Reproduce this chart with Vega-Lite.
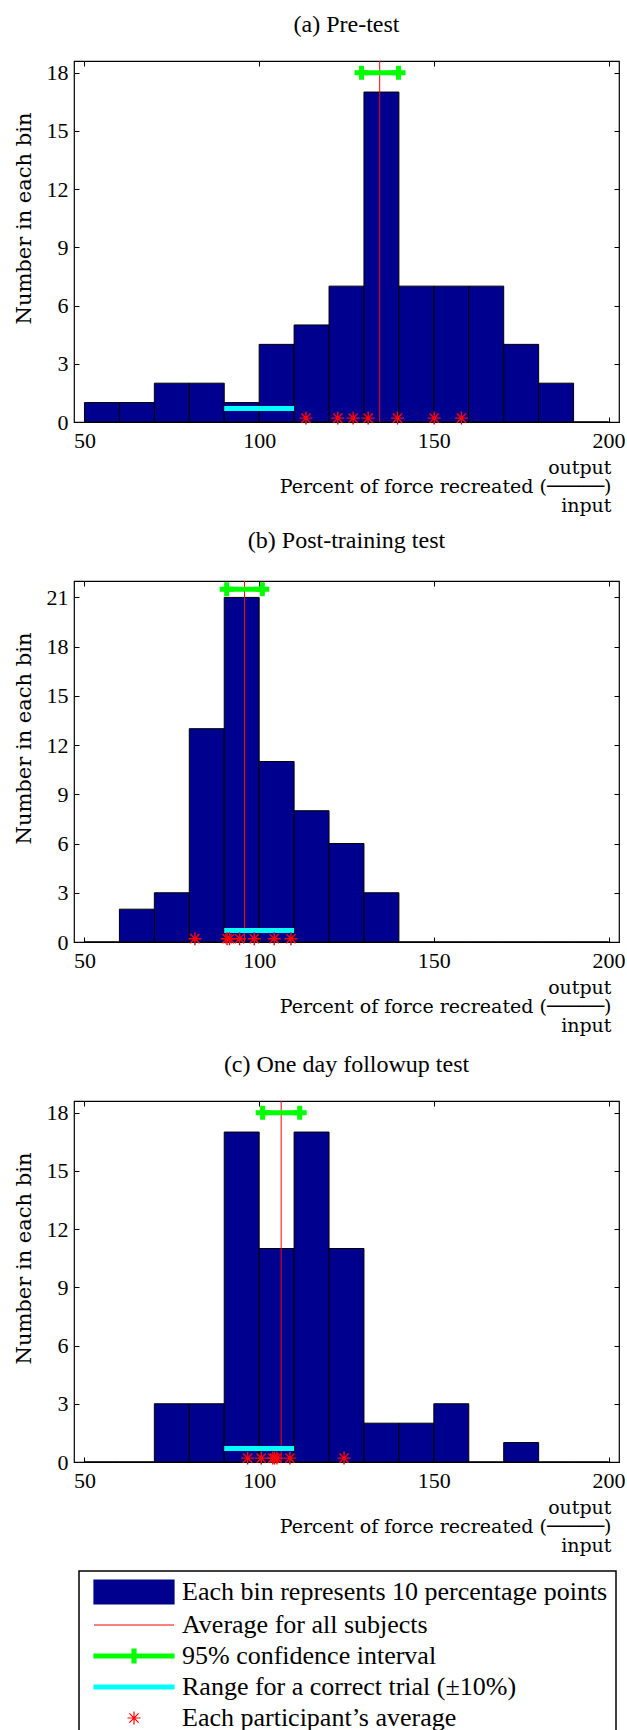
{
  "$schema": "https://vega.github.io/schema/vega-lite/v6.json",
  "padding": {"top": 12, "left": 12, "right": 0, "bottom": 0},
  "autosize": {"type": "pad"},
  "background": "white",
  "config": {
    "view": {"stroke": "black", "strokeWidth": 1.2},
    "axis": {"grid": false, "domain": false, "tickColor": "black", "tickSize": -5, "tickWidth": 1, "labelFont": "Liberation Serif", "labelFontSize": 22, "labelColor": "black", "titleFont": "DejaVu Serif", "titleFontSize": 21, "titleFontWeight": "normal", "titleColor": "black"},
    "title": {"font": "Liberation Serif", "fontSize": 24, "fontWeight": "normal", "color": "black", "offset": 19, "anchor": "middle"}
  },
  "datasets": {
    "bins": [
      {"test": "a", "lo": 50, "hi": 60, "count": 1}, {"test": "a", "lo": 60, "hi": 70, "count": 1}, {"test": "a", "lo": 70, "hi": 80, "count": 2}, {"test": "a", "lo": 80, "hi": 90, "count": 2}, {"test": "a", "lo": 90, "hi": 100, "count": 1}, {"test": "a", "lo": 100, "hi": 110, "count": 4}, {"test": "a", "lo": 110, "hi": 120, "count": 5}, {"test": "a", "lo": 120, "hi": 130, "count": 7}, {"test": "a", "lo": 130, "hi": 140, "count": 17}, {"test": "a", "lo": 140, "hi": 150, "count": 7}, {"test": "a", "lo": 150, "hi": 160, "count": 7}, {"test": "a", "lo": 160, "hi": 170, "count": 7}, {"test": "a", "lo": 170, "hi": 180, "count": 4}, {"test": "a", "lo": 180, "hi": 190, "count": 2}, {"test": "a", "lo": 190, "hi": 200, "count": 0},
      {"test": "b", "lo": 50, "hi": 60, "count": 0}, {"test": "b", "lo": 60, "hi": 70, "count": 2}, {"test": "b", "lo": 70, "hi": 80, "count": 3}, {"test": "b", "lo": 80, "hi": 90, "count": 13}, {"test": "b", "lo": 90, "hi": 100, "count": 21}, {"test": "b", "lo": 100, "hi": 110, "count": 11}, {"test": "b", "lo": 110, "hi": 120, "count": 8}, {"test": "b", "lo": 120, "hi": 130, "count": 6}, {"test": "b", "lo": 130, "hi": 140, "count": 3}, {"test": "b", "lo": 140, "hi": 150, "count": 0}, {"test": "b", "lo": 150, "hi": 160, "count": 0}, {"test": "b", "lo": 160, "hi": 170, "count": 0}, {"test": "b", "lo": 170, "hi": 180, "count": 0}, {"test": "b", "lo": 180, "hi": 190, "count": 0}, {"test": "b", "lo": 190, "hi": 200, "count": 0},
      {"test": "c", "lo": 50, "hi": 60, "count": 0}, {"test": "c", "lo": 60, "hi": 70, "count": 0}, {"test": "c", "lo": 70, "hi": 80, "count": 3}, {"test": "c", "lo": 80, "hi": 90, "count": 3}, {"test": "c", "lo": 90, "hi": 100, "count": 17}, {"test": "c", "lo": 100, "hi": 110, "count": 11}, {"test": "c", "lo": 110, "hi": 120, "count": 17}, {"test": "c", "lo": 120, "hi": 130, "count": 11}, {"test": "c", "lo": 130, "hi": 140, "count": 2}, {"test": "c", "lo": 140, "hi": 150, "count": 2}, {"test": "c", "lo": 150, "hi": 160, "count": 3}, {"test": "c", "lo": 160, "hi": 170, "count": 0}, {"test": "c", "lo": 170, "hi": 180, "count": 1}, {"test": "c", "lo": 180, "hi": 190, "count": 0}, {"test": "c", "lo": 190, "hi": 200, "count": 0}
    ],
    "stats": [
      {"test": "a", "mean": 134.5, "ciLo": 129.3, "ciHi": 139.9, "ciY": 18, "rangeLo": 90, "rangeHi": 110, "rangeY": 0.7},
      {"test": "b", "mean": 95.8, "ciLo": 90.7, "ciHi": 100.9, "ciY": 21.5, "rangeLo": 90, "rangeHi": 110, "rangeY": 0.7},
      {"test": "c", "mean": 106.3, "ciLo": 101.0, "ciHi": 111.6, "ciY": 18, "rangeLo": 90, "rangeHi": 110, "rangeY": 0.7}
    ],
    "participants": [
      {"test": "a", "value": 113.4, "y": 0.2}, {"test": "a", "value": 122.5, "y": 0.2}, {"test": "a", "value": 126.9, "y": 0.2}, {"test": "a", "value": 131.2, "y": 0.2}, {"test": "a", "value": 139.6, "y": 0.2}, {"test": "a", "value": 150.1, "y": 0.2}, {"test": "a", "value": 157.9, "y": 0.2},
      {"test": "b", "value": 81.6, "y": 0.2}, {"test": "b", "value": 90.8, "y": 0.2}, {"test": "b", "value": 91.5, "y": 0.2}, {"test": "b", "value": 94.4, "y": 0.2}, {"test": "b", "value": 98.6, "y": 0.2}, {"test": "b", "value": 104.3, "y": 0.2}, {"test": "b", "value": 109.1, "y": 0.2},
      {"test": "c", "value": 96.7, "y": 0.2}, {"test": "c", "value": 100.6, "y": 0.2}, {"test": "c", "value": 103.9, "y": 0.2}, {"test": "c", "value": 104.4, "y": 0.2}, {"test": "c", "value": 105.1, "y": 0.2}, {"test": "c", "value": 108.8, "y": 0.2}, {"test": "c", "value": 124.3, "y": 0.2}
    ]
  },
  "spacing": 159,
  "bounds": "flush",
  "resolve": {"scale": {"color": "independent"}},
  "vconcat": [
    {
      "title": "(a) Pre-test",
      "width": 545, "height": 361,
      "layer": [
        {"data": {"name": "bins"}, "transform": [{"filter": "datum.test === 'a'"}],
         "mark": {"type": "bar", "stroke": "black", "strokeWidth": 1},
         "encoding": {
           "x": {"field": "lo", "type": "quantitative", "scale": {"domain": [47, 203], "nice": false, "zero": false},
                 "axis": {"orient": "bottom", "values": [50, 100, 150, 200], "labelPadding": 13, "title": ["output\u00a0", "Percent of force recreated (\u2500\u2500\u2500\u2500\u2500)", "input\u00a0\u00a0"], "titleFontSize": 19, "titleAlign": "right", "titleAnchor": "end", "titleX": 537, "titleY": 45, "titleBaseline": "middle", "titleLineHeight": 19}},
           "x2": {"field": "hi"},
           "y": {"field": "count", "type": "quantitative", "scale": {"domain": [0, 18.6], "nice": false},
                 "axis": {"orient": "left", "values": [0, 3, 6, 9, 12, 15, 18], "labelPadding": 11, "title": "Number in each bin", "titleX": -50, "titleY": 157, "titleBaseline": "middle"}},
           "y2": {"datum": 0},
           "color": {"datum": "Each bin represents 10 percentage points", "type": "nominal", "legend": null,
                     "scale": {"domain": ["Each bin represents 10 percentage points", "Average for all subjects", "95% confidence interval", "Range for a correct trial (\u00b110%)", "Each participant\u2019s average"], "range": ["#00008F", "#ff0000", "#00ff00", "#00ffff", "#ff0000"]}}
         }},
        {"data": {"name": "stats"}, "transform": [{"filter": "datum.test === 'a'"}],
         "mark": {"type": "rule", "strokeWidth": 1},
         "encoding": {
           "x": {"field": "mean", "type": "quantitative", "scale": {"domain": [47, 203], "nice": false, "zero": false},
                 "axis": {"orient": "top", "values": [50, 100, 150, 200], "labels": false, "title": null}},
           "color": {"datum": "Average for all subjects", "type": "nominal", "legend": null}
         }},
        {"data": {"name": "stats"}, "transform": [{"filter": "datum.test === 'a'"}],
         "mark": {"type": "rule", "strokeWidth": 5},
         "encoding": {
           "x": {"field": "ciLo", "type": "quantitative", "scale": {"domain": [47, 203], "nice": false, "zero": false}, "axis": null},
           "x2": {"field": "ciHi"},
           "y": {"field": "ciY", "type": "quantitative", "scale": {"domain": [0, 18.6], "nice": false},
                 "axis": {"orient": "right", "values": [0, 3, 6, 9, 12, 15, 18], "labels": false, "title": null}},
           "color": {"datum": "95% confidence interval", "type": "nominal", "legend": null}
         }},
        {"data": {"name": "stats"}, "transform": [{"filter": "datum.test === 'a'"}],
         "mark": {"type": "point", "shape": "M-1,0H1M0,-1V1", "filled": false, "strokeWidth": 5, "size": 196, "opacity": 1},
         "encoding": {
           "x": {"field": "ciLo", "type": "quantitative", "scale": {"domain": [47, 203], "nice": false, "zero": false}, "axis": null},
           "y": {"field": "ciY", "type": "quantitative", "scale": {"domain": [0, 18.6], "nice": false}, "axis": null},
           "color": {"datum": "95% confidence interval", "type": "nominal", "legend": null}
         }},
        {"data": {"name": "stats"}, "transform": [{"filter": "datum.test === 'a'"}],
         "mark": {"type": "point", "shape": "M-1,0H1M0,-1V1", "filled": false, "strokeWidth": 5, "size": 196, "opacity": 1},
         "encoding": {
           "x": {"field": "ciHi", "type": "quantitative", "scale": {"domain": [47, 203], "nice": false, "zero": false}, "axis": null},
           "y": {"field": "ciY", "type": "quantitative", "scale": {"domain": [0, 18.6], "nice": false}, "axis": null},
           "color": {"datum": "95% confidence interval", "type": "nominal", "legend": null}
         }},
        {"data": {"name": "stats"}, "transform": [{"filter": "datum.test === 'a'"}],
         "mark": {"type": "rule", "strokeWidth": 5},
         "encoding": {
           "x": {"field": "rangeLo", "type": "quantitative", "scale": {"domain": [47, 203], "nice": false, "zero": false}, "axis": null},
           "x2": {"field": "rangeHi"},
           "y": {"field": "rangeY", "type": "quantitative", "scale": {"domain": [0, 18.6], "nice": false}, "axis": null},
           "color": {"datum": "Range for a correct trial (\u00b110%)", "type": "nominal", "legend": null}
         }},
        {"data": {"name": "participants"}, "transform": [{"filter": "datum.test === 'a'"}],
         "mark": {"type": "point", "shape": "M-1,0H1M0,-1V1M-0.71,-0.71L0.71,0.71M-0.71,0.71L0.71,-0.71", "filled": false, "strokeWidth": 1.4, "size": 169, "opacity": 1},
         "encoding": {
           "x": {"field": "value", "type": "quantitative", "scale": {"domain": [47, 203], "nice": false, "zero": false}, "axis": null},
           "y": {"field": "y", "type": "quantitative", "scale": {"domain": [0, 18.6], "nice": false}, "axis": null},
           "color": {"datum": "Each participant\u2019s average", "type": "nominal", "legend": null}
         }}
      ]
    },
    {
      "title": "(b) Post-training test",
      "width": 545, "height": 361,
      "layer": [
        {"data": {"name": "bins"}, "transform": [{"filter": "datum.test === 'b'"}],
         "mark": {"type": "bar", "stroke": "black", "strokeWidth": 1},
         "encoding": {
           "x": {"field": "lo", "type": "quantitative", "scale": {"domain": [47, 203], "nice": false, "zero": false},
                 "axis": {"orient": "bottom", "values": [50, 100, 150, 200], "labelPadding": 13, "title": ["output\u00a0", "Percent of force recreated (\u2500\u2500\u2500\u2500\u2500)", "input\u00a0\u00a0"], "titleFontSize": 19, "titleAlign": "right", "titleAnchor": "end", "titleX": 537, "titleY": 45, "titleBaseline": "middle", "titleLineHeight": 19}},
           "x2": {"field": "hi"},
           "y": {"field": "count", "type": "quantitative", "scale": {"domain": [0, 22], "nice": false},
                 "axis": {"orient": "left", "values": [0, 3, 6, 9, 12, 15, 18, 21], "labelPadding": 11, "title": "Number in each bin", "titleX": -50, "titleY": 157, "titleBaseline": "middle"}},
           "y2": {"datum": 0},
           "color": {"datum": "Each bin represents 10 percentage points", "type": "nominal", "legend": null,
                     "scale": {"domain": ["Each bin represents 10 percentage points", "Average for all subjects", "95% confidence interval", "Range for a correct trial (\u00b110%)", "Each participant\u2019s average"], "range": ["#00008F", "#ff0000", "#00ff00", "#00ffff", "#ff0000"]}}
         }},
        {"data": {"name": "stats"}, "transform": [{"filter": "datum.test === 'b'"}],
         "mark": {"type": "rule", "strokeWidth": 1},
         "encoding": {
           "x": {"field": "mean", "type": "quantitative", "scale": {"domain": [47, 203], "nice": false, "zero": false},
                 "axis": {"orient": "top", "values": [50, 100, 150, 200], "labels": false, "title": null}},
           "color": {"datum": "Average for all subjects", "type": "nominal", "legend": null}
         }},
        {"data": {"name": "stats"}, "transform": [{"filter": "datum.test === 'b'"}],
         "mark": {"type": "rule", "strokeWidth": 5},
         "encoding": {
           "x": {"field": "ciLo", "type": "quantitative", "scale": {"domain": [47, 203], "nice": false, "zero": false}, "axis": null},
           "x2": {"field": "ciHi"},
           "y": {"field": "ciY", "type": "quantitative", "scale": {"domain": [0, 22], "nice": false},
                 "axis": {"orient": "right", "values": [0, 3, 6, 9, 12, 15, 18, 21], "labels": false, "title": null}},
           "color": {"datum": "95% confidence interval", "type": "nominal", "legend": null}
         }},
        {"data": {"name": "stats"}, "transform": [{"filter": "datum.test === 'b'"}],
         "mark": {"type": "point", "shape": "M-1,0H1M0,-1V1", "filled": false, "strokeWidth": 5, "size": 196, "opacity": 1},
         "encoding": {
           "x": {"field": "ciLo", "type": "quantitative", "scale": {"domain": [47, 203], "nice": false, "zero": false}, "axis": null},
           "y": {"field": "ciY", "type": "quantitative", "scale": {"domain": [0, 22], "nice": false}, "axis": null},
           "color": {"datum": "95% confidence interval", "type": "nominal", "legend": null}
         }},
        {"data": {"name": "stats"}, "transform": [{"filter": "datum.test === 'b'"}],
         "mark": {"type": "point", "shape": "M-1,0H1M0,-1V1", "filled": false, "strokeWidth": 5, "size": 196, "opacity": 1},
         "encoding": {
           "x": {"field": "ciHi", "type": "quantitative", "scale": {"domain": [47, 203], "nice": false, "zero": false}, "axis": null},
           "y": {"field": "ciY", "type": "quantitative", "scale": {"domain": [0, 22], "nice": false}, "axis": null},
           "color": {"datum": "95% confidence interval", "type": "nominal", "legend": null}
         }},
        {"data": {"name": "stats"}, "transform": [{"filter": "datum.test === 'b'"}],
         "mark": {"type": "rule", "strokeWidth": 5},
         "encoding": {
           "x": {"field": "rangeLo", "type": "quantitative", "scale": {"domain": [47, 203], "nice": false, "zero": false}, "axis": null},
           "x2": {"field": "rangeHi"},
           "y": {"field": "rangeY", "type": "quantitative", "scale": {"domain": [0, 22], "nice": false}, "axis": null},
           "color": {"datum": "Range for a correct trial (\u00b110%)", "type": "nominal", "legend": null}
         }},
        {"data": {"name": "participants"}, "transform": [{"filter": "datum.test === 'b'"}],
         "mark": {"type": "point", "shape": "M-1,0H1M0,-1V1M-0.71,-0.71L0.71,0.71M-0.71,0.71L0.71,-0.71", "filled": false, "strokeWidth": 1.4, "size": 169, "opacity": 1},
         "encoding": {
           "x": {"field": "value", "type": "quantitative", "scale": {"domain": [47, 203], "nice": false, "zero": false}, "axis": null},
           "y": {"field": "y", "type": "quantitative", "scale": {"domain": [0, 22], "nice": false}, "axis": null},
           "color": {"datum": "Each participant\u2019s average", "type": "nominal", "legend": null}
         }}
      ]
    },
    {
      "title": "(c) One day followup test",
      "width": 545, "height": 361,
      "layer": [
        {"data": {"name": "bins"}, "transform": [{"filter": "datum.test === 'c'"}],
         "mark": {"type": "bar", "stroke": "black", "strokeWidth": 1},
         "encoding": {
           "x": {"field": "lo", "type": "quantitative", "scale": {"domain": [47, 203], "nice": false, "zero": false},
                 "axis": {"orient": "bottom", "values": [50, 100, 150, 200], "labelPadding": 13, "title": ["output\u00a0", "Percent of force recreated (\u2500\u2500\u2500\u2500\u2500)", "input\u00a0\u00a0"], "titleFontSize": 19, "titleAlign": "right", "titleAnchor": "end", "titleX": 537, "titleY": 45, "titleBaseline": "middle", "titleLineHeight": 19}},
           "x2": {"field": "hi"},
           "y": {"field": "count", "type": "quantitative", "scale": {"domain": [0, 18.6], "nice": false},
                 "axis": {"orient": "left", "values": [0, 3, 6, 9, 12, 15, 18], "labelPadding": 11, "title": "Number in each bin", "titleX": -50, "titleY": 157, "titleBaseline": "middle"}},
           "y2": {"datum": 0},
           "color": {"datum": "Each bin represents 10 percentage points", "type": "nominal",
                     "scale": {"domain": ["Each bin represents 10 percentage points", "Average for all subjects", "95% confidence interval", "Range for a correct trial (\u00b110%)", "Each participant\u2019s average"], "range": ["#00008F", "#ff0000", "#00ff00", "#00ffff", "#ff0000"]},
                     "legend": {
                       "orient": "none", "legendX": 5, "legendY": 470, "direction": "vertical", "title": null,
                       "strokeColor": "black", "padding": 8,
                       "symbolSize": 400, "symbolStrokeWidth": 1.2, "symbolOffset": 34, "labelOffset": 35,
                       "labelFont": "Liberation Serif", "labelFontSize": 26, "labelColor": "black", "labelLimit": 0,
                       "rowPadding": 5,
                       "encoding": {
                         "symbols": {
                           "shape": {"value": {"expr": "['M-4,-1.2H4V1.2H-4Z','M-4,0H4','M-4,-0.2H-0.2V-0.7H0.2V-0.2H4V0.2H0.2V0.7H-0.2V0.2H-4Z','M-4,-0.2H4V0.2H-4Z','M-0.65,0H0.65M0,-0.65V0.65M-0.46,-0.46L0.46,0.46M-0.46,0.46L0.46,-0.46'][datum.index]"}},
                           "stroke": {"value": {"expr": "['#000000','#ff0000','#00ff00','#00ffff','#ff0000'][datum.index]"}},
                           "fill": {"value": {"expr": "['#00008F','transparent','#00ff00','#00ffff','transparent'][datum.index]"}},
                           "opacity": {"value": 1}, "fillOpacity": {"value": 1}, "strokeOpacity": {"value": 1}
                         },
                         "legend": {"strokeWidth": {"value": 1.5}}
                       }
                     }}
         }},
        {"data": {"name": "stats"}, "transform": [{"filter": "datum.test === 'c'"}],
         "mark": {"type": "rule", "strokeWidth": 1},
         "encoding": {
           "x": {"field": "mean", "type": "quantitative", "scale": {"domain": [47, 203], "nice": false, "zero": false},
                 "axis": {"orient": "top", "values": [50, 100, 150, 200], "labels": false, "title": null}},
           "color": {"datum": "Average for all subjects", "type": "nominal", "legend": null}
         }},
        {"data": {"name": "stats"}, "transform": [{"filter": "datum.test === 'c'"}],
         "mark": {"type": "rule", "strokeWidth": 5},
         "encoding": {
           "x": {"field": "ciLo", "type": "quantitative", "scale": {"domain": [47, 203], "nice": false, "zero": false}, "axis": null},
           "x2": {"field": "ciHi"},
           "y": {"field": "ciY", "type": "quantitative", "scale": {"domain": [0, 18.6], "nice": false},
                 "axis": {"orient": "right", "values": [0, 3, 6, 9, 12, 15, 18], "labels": false, "title": null}},
           "color": {"datum": "95% confidence interval", "type": "nominal", "legend": null}
         }},
        {"data": {"name": "stats"}, "transform": [{"filter": "datum.test === 'c'"}],
         "mark": {"type": "point", "shape": "M-1,0H1M0,-1V1", "filled": false, "strokeWidth": 5, "size": 196, "opacity": 1},
         "encoding": {
           "x": {"field": "ciLo", "type": "quantitative", "scale": {"domain": [47, 203], "nice": false, "zero": false}, "axis": null},
           "y": {"field": "ciY", "type": "quantitative", "scale": {"domain": [0, 18.6], "nice": false}, "axis": null},
           "color": {"datum": "95% confidence interval", "type": "nominal", "legend": null}
         }},
        {"data": {"name": "stats"}, "transform": [{"filter": "datum.test === 'c'"}],
         "mark": {"type": "point", "shape": "M-1,0H1M0,-1V1", "filled": false, "strokeWidth": 5, "size": 196, "opacity": 1},
         "encoding": {
           "x": {"field": "ciHi", "type": "quantitative", "scale": {"domain": [47, 203], "nice": false, "zero": false}, "axis": null},
           "y": {"field": "ciY", "type": "quantitative", "scale": {"domain": [0, 18.6], "nice": false}, "axis": null},
           "color": {"datum": "95% confidence interval", "type": "nominal", "legend": null}
         }},
        {"data": {"name": "stats"}, "transform": [{"filter": "datum.test === 'c'"}],
         "mark": {"type": "rule", "strokeWidth": 5},
         "encoding": {
           "x": {"field": "rangeLo", "type": "quantitative", "scale": {"domain": [47, 203], "nice": false, "zero": false}, "axis": null},
           "x2": {"field": "rangeHi"},
           "y": {"field": "rangeY", "type": "quantitative", "scale": {"domain": [0, 18.6], "nice": false}, "axis": null},
           "color": {"datum": "Range for a correct trial (\u00b110%)", "type": "nominal", "legend": null}
         }},
        {"data": {"name": "participants"}, "transform": [{"filter": "datum.test === 'c'"}],
         "mark": {"type": "point", "shape": "M-1,0H1M0,-1V1M-0.71,-0.71L0.71,0.71M-0.71,0.71L0.71,-0.71", "filled": false, "strokeWidth": 1.4, "size": 169, "opacity": 1},
         "encoding": {
           "x": {"field": "value", "type": "quantitative", "scale": {"domain": [47, 203], "nice": false, "zero": false}, "axis": null},
           "y": {"field": "y", "type": "quantitative", "scale": {"domain": [0, 18.6], "nice": false}, "axis": null},
           "color": {"datum": "Each participant\u2019s average", "type": "nominal", "legend": null}
         }}
      ]
    }
  ]
}
